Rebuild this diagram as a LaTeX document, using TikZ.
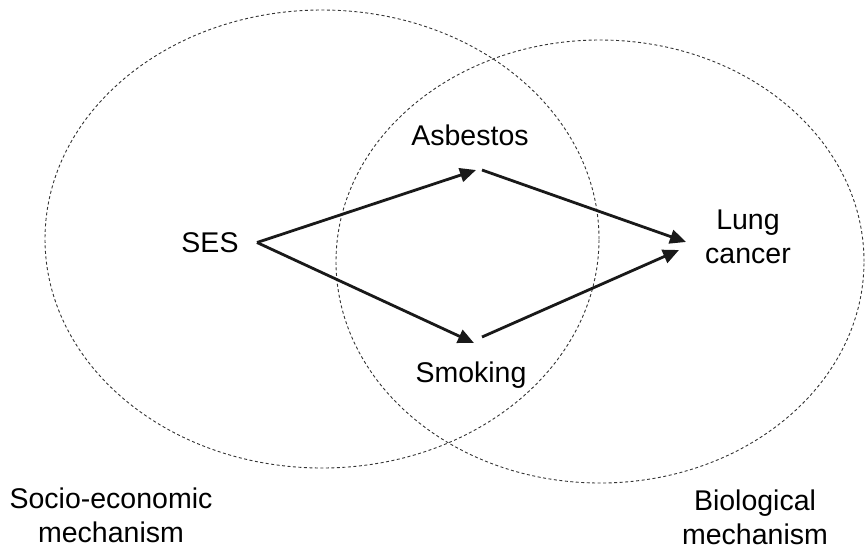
\documentclass[tikz,border=0pt]{standalone}
\usepackage{fontspec}
\setmainfont{Liberation Sans}
\usetikzlibrary{arrows.meta}
\begin{document}
\begin{tikzpicture}[x=1pt,y=-1pt,
  lbl/.style={font=\fontsize{28.5}{34}\selectfont, inner sep=0pt, align=center, anchor=base},
  mech/.style={draw=black!80, line width=0.9pt, dash pattern=on 3pt off 2.5pt},
  arr/.style={draw=black!90, line width=2.8pt, -{Triangle[length=16pt,width=14pt]}}]
\useasboundingbox (0,0) rectangle (865,550);
% mechanism ellipses
\draw[mech] (322,239) ellipse [x radius=277pt, y radius=229pt];
\draw[mech] (600,261.5) ellipse [x radius=264pt, y radius=221.5pt];
% labels (multi-line nodes: base = last line's baseline)
\node[lbl] (ses) at (210,252) {SES};
\node[lbl] (asb) at (470,145) {Asbestos};
\node[lbl] (smk) at (471,382) {Smoking};
\node[lbl] (lc) at (748,263) {Lung\\cancer};
\node[lbl] (socio) at (111,542) {Socio-economic\\mechanism};
\node[lbl] (bio) at (755,544) {Biological\\mechanism};
% connector end points
\coordinate (sesout) at (257,242.5);
\coordinate (asbin) at (476,170);
\coordinate (asbout) at (482,170);
\coordinate (smkin) at (474,343);
\coordinate (smkout) at (482,337);
\coordinate (lcinA) at (686,242);
\coordinate (lcinB) at (679,250);
% connectors
\draw[arr] (sesout) -- (asbin);
\draw[arr] (sesout) -- (smkin);
\draw[arr] (asbout) -- (lcinA);
\draw[arr] (smkout) -- (lcinB);
\end{tikzpicture}
\end{document}
